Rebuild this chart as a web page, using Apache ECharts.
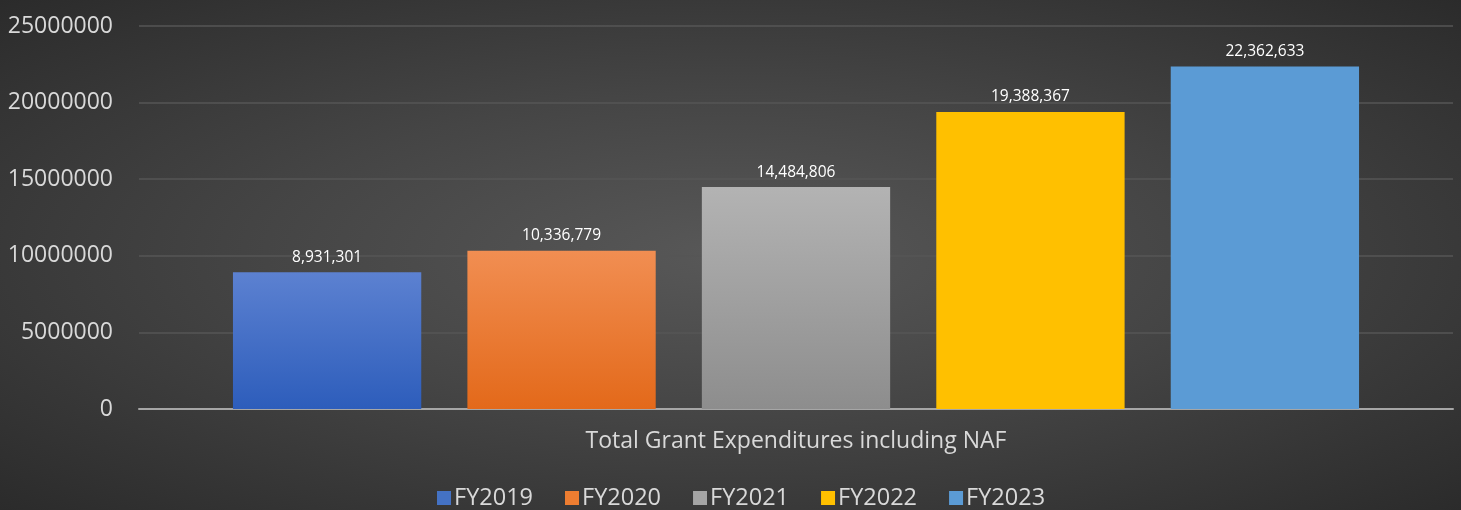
<!DOCTYPE html>
<html>
<head>
<meta charset="utf-8">
<script src="https://cdn.jsdelivr.net/npm/echarts@6/dist/echarts.min.js"></script>
<style>
  html, body { margin: 0; padding: 0; }
  #chart {
    width: 1461px;
    height: 510px;
    background: radial-gradient(ellipse at 50% 50%, #585858 0%, #454545 45%, #2b2b2b 100%);
  }
</style>
</head>
<body>
<div id="chart"></div>
<script>
const categories = ['Total Grant Expenditures including NAF'];
const seriesNames = ['FY2019', 'FY2020', 'FY2021', 'FY2022', 'FY2023'];
const seriesValues = [8931301, 10336779, 14484806, 19388367, 22362633];

const grad = (top, bottom) =>
  new echarts.graphic.LinearGradient(0, 0, 0, 1, [
    { offset: 0, color: top },
    { offset: 1, color: bottom },
  ]);

const barColors = [
  grad('#5c81d1', '#2d5dbb'),
  grad('#f18e52', '#e3691a'),
  grad('#b3b3b3', '#8d8d8d'),
  '#ffc000',
  '#5b9bd5',
];
const legendColors = ['#4472c4', '#ed7d31', '#a5a5a5', '#ffc000', '#5b9bd5'];

const fontFamily = '"Open Sans", sans-serif';
const fmt = v => v.toLocaleString('en-US');

const chart = echarts.init(document.getElementById('chart'));

const option = {
  backgroundColor: 'transparent',
  animation: false,
  textStyle: { fontFamily },
  grid: { left: 139, right: 8, top: 26, bottom: 101, containLabel: false },
  legend: {
    bottom: -5,
    left: 432,
    itemWidth: 14,
    itemHeight: 14,
    itemGap: 32,
    icon: 'rect',
    textStyle: { color: '#d9d9d9', fontSize: 23.5, fontFamily, padding: [0, 0, 0, -2] },
    data: seriesNames.map((n, i) => ({ name: n, itemStyle: { color: legendColors[i] } })),
  },
  xAxis: {
    type: 'category',
    data: categories,
    axisLine: { lineStyle: { color: '#a6a6a6', width: 2 } },
    axisTick: { show: false },
    axisLabel: { color: '#d9d9d9', fontSize: 23, margin: 21, fontFamily },
  },
  yAxis: {
    type: 'value',
    min: 0,
    max: 25000000,
    interval: 5000000,
    axisLine: { show: false },
    axisTick: { show: false },
    axisLabel: { color: '#d9d9d9', fontSize: 23, margin: 26, fontFamily, formatter: v => String(v) },
    splitLine: { lineStyle: { color: '#565656', width: 1.5 } },
  },
  series: seriesNames.map((name, i) => ({
    name,
    type: 'bar',
    barGap: '24.5%',
    barCategoryGap: '14.3%',
    itemStyle: { color: barColors[i] },
    label: {
      show: true,
      position: 'top',
      distance: 7,
      color: '#ffffff',
      fontSize: 15.5,
      fontFamily,
      formatter: p => fmt(p.value),
    },
    data: [seriesValues[i]],
  })),
};

chart.setOption(option);
</script>
</body>
</html>
